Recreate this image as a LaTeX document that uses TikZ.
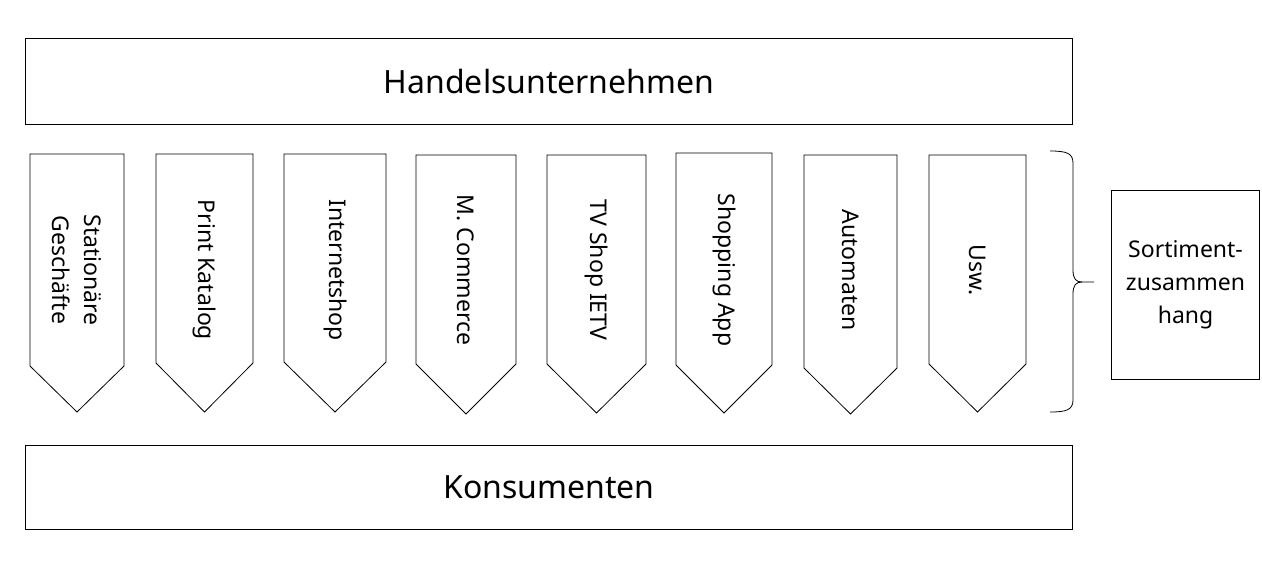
\documentclass[tikz,border=0pt]{standalone}
\usepackage{fontspec}
\setmainfont{Noto Sans}
\begin{document}
\begin{tikzpicture}[x=1pt,y=-1pt,
  bigbox/.style={draw=black,line width=1.2pt,fill=white},
  chan/.style={draw=black,line width=0.8pt,fill=white,line join=miter},
  chanlabel/.style={rotate=-90,font=\fontsize{23}{32}\selectfont,align=center,inner sep=0pt},
  bigtext/.style={font=\fontsize{32}{38}\selectfont,inner sep=0pt},
  bracestyle/.style={draw=black,line width=0.8pt}]
\useasboundingbox[fill=white] (0,0) rectangle (1262,571);
% top and bottom boxes
\node[bigbox,minimum width=1047pt,minimum height=86pt,anchor=north west] (top) at (25,38) {};
\node[bigtext] (toptext) at (top.center) {Handelsunternehmen};
\node[bigbox,minimum width=1047pt,minimum height=84pt,anchor=north west] (bottom) at (25,445) {};
\node[bigtext] (bottomtext) at (bottom.center) {Konsumenten};
% channel arrows
\foreach \l/\r/\t/\s/\p/\name/\txt in {
  30/124/154/366/412/c1/{Stationäre\\Geschäfte},
  156/253/154/363/412/c2/{Print Katalog},
  284/386/154/362/412/c3/{Internetshop},
  416/516/155/364/414/c4/{M. Commerce},
  547/646/155/364/413/c5/{TV Shop IETV},
  676/772/153/365/413/c6/{Shopping App},
  804/897/155/368/414/c7/{Automaten},
  929/1026/155/364/412/c8/{Usw.}}{
  \path[chan] (\l,\t) -- (\r,\t) -- (\r,\s) -- ({(\l+\r)/2},\p) -- (\l,\s) -- cycle;
  \node[chanlabel] (\name) at ({(\l+\r)/2},270) {\txt};
}
% Sortiment box
\node[draw=black,line width=1.1pt,minimum width=148pt,minimum height=189pt,anchor=north west,
  align=center,font=\fontsize{23}{33}\selectfont,inner sep=0pt] (sort) at (1111,190)
  {Sortiment-\\zusammen\\hang};
% brace
\coordinate (btop) at (1050,151);
\coordinate (bbot) at (1050,412);
\coordinate (btip) at (1094,282);
\draw[bracestyle] (btop) .. controls (1066,151) and (1073,153) .. (1073,163)
  -- (1073,270) .. controls (1073,279) and (1076,282) .. (1082,282) -- (btip);
\draw[bracestyle] (bbot) .. controls (1066,412) and (1073,410) .. (1073,400)
  -- (1073,294) .. controls (1073,285) and (1076,282) .. (1082,282);
\end{tikzpicture}
\end{document}
